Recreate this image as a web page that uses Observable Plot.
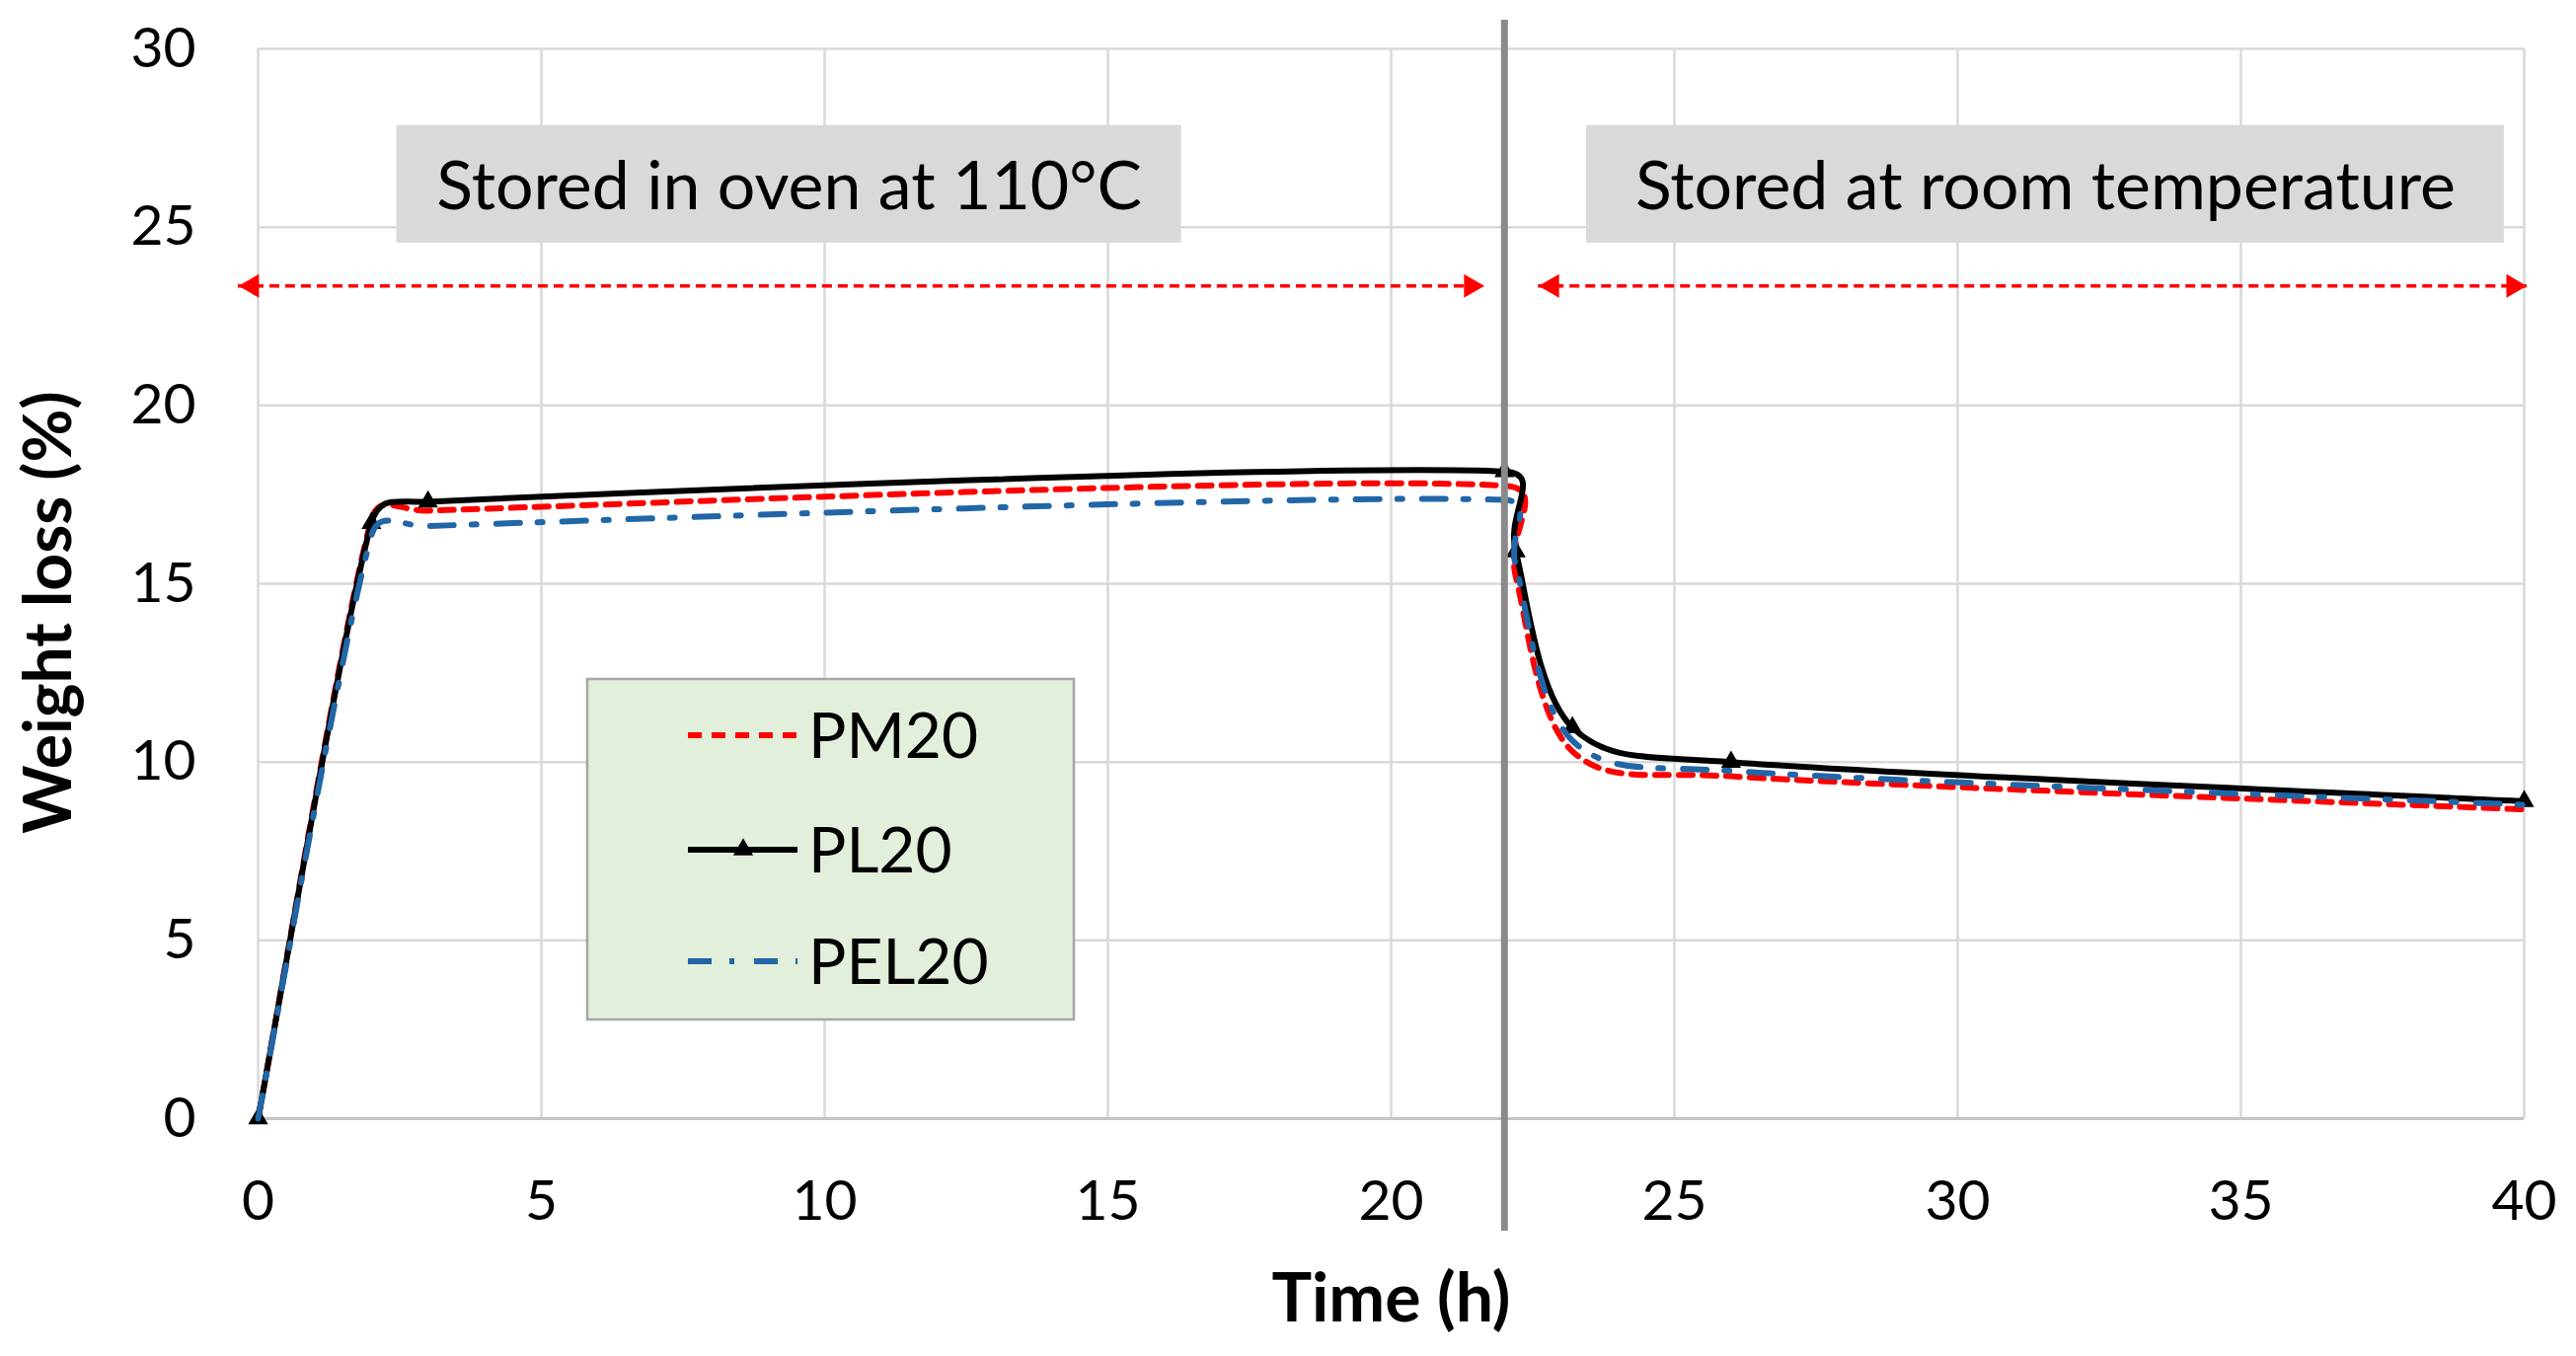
<!DOCTYPE html>
<html>
<head>
<meta charset="utf-8">
<script src="https://cdn.jsdelivr.net/npm/d3@7"></script>
<script src="https://cdn.jsdelivr.net/npm/@observablehq/plot@0.6"></script>
<style>
html, body { margin: 0; padding: 0; background: #fff; }
#chart { width: 2610px; height: 1374px; }
</style>
</head>
<body>
<div id="chart"></div>
<script>
// ---- data ----
const seriesNames = ["PM20", "PL20", "PEL20"];
const timeH = [0, 2, 3, 22, 22.2, 23.2, 26, 40];
const pm20  = [0, 16.8, 17.05, 17.75, 15.2, 10.3, 9.6, 8.67];
const pl20  = [0, 16.7, 17.3, 18.15, 15.9, 10.97, 10.0, 8.9];
const pel20 = [0, 16.35, 16.62, 17.35, 15.5, 10.6, 9.75, 8.8];

const xTicks = [0, 5, 10, 15, 20, 25, 30, 35, 40];
const yTicks = [0, 5, 10, 15, 20, 25, 30];

// annotations (data units)
const phaseBoundary = [22];
const phaseLabels = ["Stored in oven at 110°C", "Stored at room temperature"];
const labelX1 = [2.45, 23.45];
const labelX2 = [16.3, 39.65];
const labelY1 = [24.55, 24.55];
const labelY2 = [27.85, 27.85];
const arrowX1 = [-0.35, 22.6];
const arrowX2 = [21.65, 40.05];
const arrowY  = [23.35, 23.35];

// ---- styles ----
const FONT = "Lato, 'Open Sans', 'Liberation Sans', sans-serif";
const seriesColors = ["#ff0000", "#000000", "#2166a6"];
const seriesDash = ["14,10", null, "24,18,5,20"];
const seriesWidth = [6, 6, 6];

// Excel-like smoothed line (Bezier with clamped control arms)
function excelCurve(context) {
  let pts = [];
  return {
    areaStart() {}, areaEnd() {},
    lineStart() { pts = []; },
    point(x, y) { pts.push([+x, +y]); },
    lineEnd() {
      const n = pts.length;
      if (!n) return;
      context.moveTo(pts[0][0], pts[0][1]);
      if (n === 2) { context.lineTo(pts[1][0], pts[1][1]); return; }
      for (let i = 0; i < n - 1; i++) {
        const p0 = pts[Math.max(0, i - 1)], p1 = pts[i], p2 = pts[i + 1], p3 = pts[Math.min(n - 1, i + 2)];
        const d12 = Math.hypot(p2[0] - p1[0], p2[1] - p1[1]);
        const d02 = Math.hypot(p2[0] - p0[0], p2[1] - p0[1]);
        const d13 = Math.hypot(p3[0] - p1[0], p3[1] - p1[1]);
        let fb = 1 / 6, fc = 1 / 6;
        if (d02 > 0 && d02 / 6 >= d12 / 2) fb = d12 / (2 * d02);
        if (d13 > 0 && d13 / 6 >= d12 / 2) fc = d12 / (2 * d13);
        const bx = p1[0] + (p2[0] - p0[0]) * fb, by = p1[1] + (p2[1] - p0[1]) * fb;
        const cx = p2[0] - (p3[0] - p1[0]) * fc, cy = p2[1] - (p3[1] - p1[1]) * fc;
        context.bezierCurveTo(bx, by, cx, cy, p2[0], p2[1]);
      }
    }
  };
}

const seriesValues = [pm20, pl20, pel20];
const rows = seriesValues.map((vals, s) => timeH.map((t, i) => ({t, v: vals[i], series: seriesNames[s]})));
const boxes = phaseLabels.map((label, i) => ({label, x1: labelX1[i], x2: labelX2[i], y1: labelY1[i], y2: labelY2[i]}));
const arrows = arrowX1.map((x1, i) => ({x1, x2: arrowX2[i], y: arrowY[i]}));

const lineMark = (s) => Plot.line(rows[s], {
  x: "t", y: "v", curve: excelCurve,
  stroke: seriesColors[s], strokeWidth: seriesWidth[s],
  strokeDasharray: seriesDash[s] || undefined, strokeLinejoin: "round"
});

const chart = Plot.plot({
  width: 2610,
  height: 1374,
  marginLeft: 261,
  marginRight: 53,
  marginTop: 49,
  marginBottom: 241,
  style: {fontFamily: FONT, fontSize: "57px", color: "#000", background: "#fff", overflow: "visible"},
  x: {domain: [0, 40], ticks: xTicks, tickSize: 0, tickPadding: 62, label: null},
  y: {domain: [0, 30], ticks: yTicks, tickSize: 0, tickPadding: 63, label: null},
  marks: [
    Plot.ruleX(xTicks, {stroke: "#d9d9d9", strokeWidth: 2.5}),
    Plot.ruleY(yTicks, {stroke: "#d9d9d9", strokeWidth: 2.5}),
    Plot.ruleY([0], {stroke: "#c4c4c4", strokeWidth: 3}),
    Plot.rect(boxes, {x1: "x1", x2: "x2", y1: "y1", y2: "y2", fill: "#d9d9d9"}),
    Plot.text(boxes, {x: d => (d.x1 + d.x2) / 2, y: d => (d.y1 + d.y2) / 2, text: "label",
      fontSize: 68, fill: "#000", dy: 3}),
    Plot.ruleY(arrows, {x1: "x1", x2: "x2", y: "y", stroke: "#ff0000", strokeWidth: 3.5, strokeDasharray: "10,6"}),
    Plot.dot(arrows, {x: "x1", y: "y", symbol: "triangle", r: 8.9, rotate: -90, dx: 14, fill: "#ff0000"}),
    Plot.dot(arrows, {x: "x2", y: "y", symbol: "triangle", r: 8.9, rotate: 90, dx: -14, fill: "#ff0000"}),
    lineMark(0),
    lineMark(1),
    Plot.dot(rows[1], {x: "t", y: "v", symbol: "triangle", r: 7.5, fill: "#000"}),
    lineMark(2),
    Plot.ruleX(phaseBoundary, {stroke: "#8a8a8a", strokeWidth: 7, insetTop: -29, insetBottom: -114}),
    Plot.text(["Time (h)"], {frameAnchor: "bottom", text: d => d, dy: 205, fontSize: 68, fontWeight: "bold", fill: "#000"}),
    Plot.text(["Weight loss (%)"], {frameAnchor: "left", text: d => d, rotate: -90, textAnchor: "middle",
      dx: -211, dy: 29, fontSize: 66, fontWeight: "bold", fill: "#000"})
  ]
});

document.getElementById("chart").appendChild(chart);

// ---- legend (inside the plot area) ----
const svg = d3.select(chart);
const lg = svg.append("g").attr("font-family", FONT).attr("font-size", 64).attr("text-anchor", "start");
lg.append("rect").attr("x", 595).attr("y", 688).attr("width", 493).attr("height", 345)
  .attr("fill", "#e2efda").attr("stroke", "#a6a6a6").attr("stroke-width", 2.5);
const rowY = [745, 861, 974];
seriesNames.forEach((name, s) => {
  const y = rowY[s];
  lg.append("line").attr("x1", 697).attr("x2", 808).attr("y1", y).attr("y2", y)
    .attr("stroke", seriesColors[s]).attr("stroke-width", seriesWidth[s])
    .attr("stroke-dasharray", seriesDash[s]);
  if (s === 1) {
    lg.append("path").attr("transform", `translate(753,${y})`)
      .attr("d", d3.symbol(d3.symbolTriangle, Math.PI * 7.5 * 7.5)()).attr("fill", "#000");
  }
  lg.append("text").attr("x", 819).attr("y", y).attr("dy", "0.36em").attr("fill", "#000")
    .attr("text-anchor", "start").text(name);
});
</script>
</body>
</html>
